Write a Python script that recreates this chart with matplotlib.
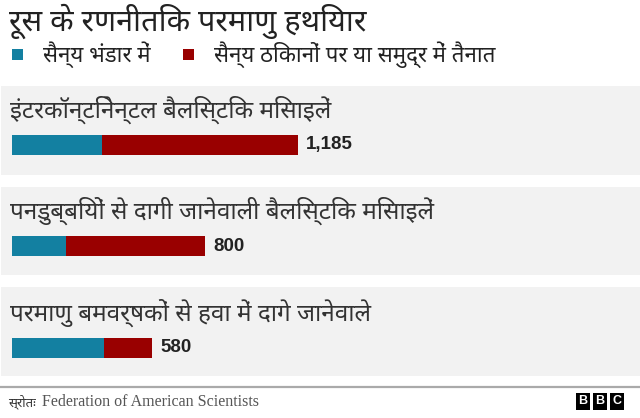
import matplotlib
matplotlib.use("Agg")
import matplotlib.pyplot as plt
from matplotlib import font_manager as fm
from matplotlib.patches import Rectangle
from matplotlib.lines import Line2D

# ---------------- data ----------------
title = "रूस के रणनीतिक परमाणु हथियार"
legend_labels = ["सैन्य भंडार में", "सैन्य ठिकानों पर या समुद्र में तैनात"]
categories = [
    "इंटरकॉन्टिनेन्टल बैलिस्टिक मिसाइलें",
    "पनडुब्बियों से दागी जानेवाली बैलिस्टिक मिसाइलें",
    "परमाणु बमवर्षकों से हवा में दागे जानेवाले",
]
stockpile = [373, 224, 380]
deployed = [812, 576, 200]
totals = [1185, 800, 580]
total_labels = ["1,185", "800", "580"]
source_prefix = "स्रोतः"
source_text = "Federation of American Scientists"

# ---------------- fonts ----------------
def find_deva():
    names = {f.name for f in fm.fontManager.ttflist}
    for p in ["Noto Sans Devanagari", "Lohit Devanagari", "Mukta", "Hind",
              "FreeSans", "Mangal", "Nirmala UI", "Kohinoor Devanagari",
              "Gargi", "Samanata", "Kalimati"]:
        if p in names:
            return p
    try:
        from matplotlib.ft2font import FT2Font
        for f in fm.fontManager.ttflist:
            try:
                cm = FT2Font(f.fname).get_charmap()
                if 0x0915 in cm and 0x093F in cm:
                    return f.name
            except Exception:
                pass
    except Exception:
        pass
    return None

deva = find_deva()
HFAM = ([deva] if deva else []) + ["Liberation Sans", "DejaVu Sans"]
plt.rcParams["font.family"] = HFAM

BLUE = "#1380A1"
RED = "#990000"
PANEL = "#f2f2f2"
TXT = "#222222"

W, H = 640, 418
fig = plt.figure(figsize=(W / 100, H / 100), dpi=100)
fig.patch.set_facecolor("white")

def fx(x):
    return x / W

def fy(y):
    return 1 - y / H

# title
fig.text(fx(9), fy(21), title, fontsize=22, fontweight="bold", color=TXT,
         va="center", ha="left", family=HFAM)

# legend
for (x0, tx), lab, col in zip([(12, 43), (183, 214)], legend_labels, [BLUE, RED]):
    fig.patches.append(Rectangle((fx(x0), fy(59.5)), 10.5 / W, 10.5 / H,
                                 transform=fig.transFigure, facecolor=col,
                                 edgecolor="none"))
    fig.text(fx(tx), fy(55), lab, fontsize=16, color=TXT, va="center",
             ha="left", family=HFAM)

# panels
k = 286 / 1185.0  # pixels per unit
panels = [(86, 175), (187, 275), (287, 376)]
bar_off = [49, 49, 51]
lab_off = [24, 24, 26]
for i, (top, bot) in enumerate(panels):
    ph = bot - top
    ax = fig.add_axes([fx(1), fy(bot), 639 / W, ph / H])
    ax.set_facecolor(PANEL)
    ax.set_xlim(-11 / k, 628 / k)
    ax.set_ylim(ph, 0)
    for s in ax.spines.values():
        s.set_visible(False)
    ax.set_xticks([])
    ax.set_yticks([])
    yc = bar_off[i] + 10
    ax.barh(yc, stockpile[i], height=20, left=0, color=BLUE, linewidth=0)
    ax.barh(yc, deployed[i], height=20, left=stockpile[i], color=RED,
            linewidth=0)
    ax.text(totals[i] + 8 / k, yc, total_labels[i], fontsize=13.5,
            fontweight="bold", color=TXT, va="center", ha="left",
            family=["Liberation Sans", "DejaVu Sans"])
    ax.text(-2 / k, lab_off[i], categories[i], fontsize=17.5, color="#333333",
            va="center", ha="left", family=HFAM)

# separator
fig.lines.append(Line2D([0, 1], [fy(387), fy(387)], transform=fig.transFigure,
                        color="#aaaaaa", linewidth=1.6))

# source
fig.text(fx(8), fy(402), source_prefix, fontsize=9.5, color="#333333",
         va="center", ha="left", family=HFAM)
fig.text(fx(42), fy(402.5), source_text, fontsize=11.5, color="#555555",
         va="center", ha="left",
         family=["Liberation Serif", "DejaVu Serif"])

# BBC logo
for j, ch in enumerate("BBC"):
    x0 = 576 + j * 17
    fig.patches.append(Rectangle((fx(x0), fy(410)), 14 / W, 17 / H,
                                 transform=fig.transFigure, facecolor="black",
                                 edgecolor="none"))
    fig.text(fx(x0 + 7), fy(401.5), ch, fontsize=9, fontweight="bold",
             color="white", va="center", ha="center",
             family=["Liberation Sans", "DejaVu Sans"])

fig.savefig("out.png", dpi=100, facecolor="white")
